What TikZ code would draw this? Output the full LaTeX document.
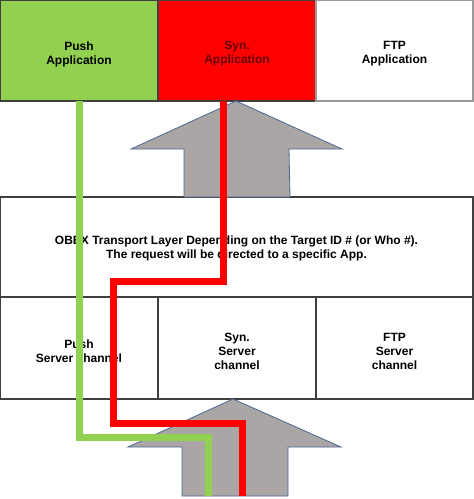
\documentclass[tikz,border=0pt]{standalone}
\usepackage{fontspec}
\setmainfont{Liberation Sans}
\usetikzlibrary{positioning,calc}

\definecolor{pushgreen}{HTML}{92D050}
\definecolor{synred}{HTML}{FF0000}
\definecolor{arrowgray}{HTML}{AAA6A6}
\definecolor{arrowedge}{HTML}{4A6894}

\begin{document}
\begin{tikzpicture}[
  x=1pt,y=-1pt,
  cell/.style={draw=black!75,line width=1.3pt,inner sep=0pt,outer sep=0pt,
               minimum width=158pt,minimum height=101pt},
  srvcell/.style={cell,minimum height=102pt},
  celltext/.style={align=center,inner sep=0pt,yshift=-3.5pt,
               font=\bfseries\fontsize{12}{14}\selectfont},
  bigarrow/.style={fill=arrowgray,draw=arrowedge,line width=0.8pt,line join=miter},
  wire/.style={line width=7pt},
  greenwire/.style={wire,draw=pushgreen},
  redwire/.style={wire,draw=synred}
]
\useasboundingbox (0,0) rectangle (474,499);

% applications
\node[cell,fill=pushgreen,anchor=north west] (push) at (0,0) {};
\node[cell,fill=synred,right=0pt of push] (syn) {};
\node[cell,draw=gray!80,minimum width=157pt,right=0pt of syn] (ftp) {};
\node[celltext] (pushtxt) at (push) {Push\\Application};
\node[celltext,text=red!40!black] (syntxt) at (syn) {Syn.\\Application};
\node[celltext] (ftptxt) at (ftp) {FTP\\Application};

% transport layer
\node[cell,anchor=north west,minimum width=473pt,minimum height=100pt] (obex) at (0,197) {};
\node[celltext,yshift=2pt] (obextxt) at (obex)
  {OBEX Transport Layer Depending on the Target ID \# (or Who \#).\\The request will be directed to a specific App.};

% server channels
\node[srvcell,anchor=north west] (pushsrv) at (0,297) {};
\node[srvcell,right=0pt of pushsrv] (synsrv) {};
\node[srvcell,minimum width=157pt,right=0pt of synsrv] (ftpsrv) {};
\node[celltext] (pushsrvtxt) at (pushsrv) {Push\\Server channel};
\node[celltext] (synsrvtxt) at (synsrv) {Syn.\\Server\\channel};
\node[celltext] (ftpsrvtxt) at (ftpsrv) {FTP\\Server\\channel};

% big arrows
\draw[bigarrow] (syn.south) ++(-1,0) -- ++(106,48) -- ++(-53,0) -- (290,197)
  -- (184,197) -- (184,149) -- (131,149) -- cycle;
\draw[bigarrow] (synsrv.south) ++(-4,0) -- ++(108,48) -- ++(-53,0) -- (288,496)
  -- (182,496) -- (182,447) -- (128,447) -- cycle;

% request paths
\coordinate (gturn) at (79,437);
\coordinate (gend) at (208,496);
\coordinate (rstart) at (223,101);
\coordinate (rturn) at (223,281);
\coordinate (rmid) at (113,423);
\coordinate (rend) at (242,496);

\draw[greenwire] (push.south) -- (gturn) -| (gend);
\draw[redwire] (rstart) -- (rturn) -| (rmid) -| (rend);
\end{tikzpicture}
\end{document}
